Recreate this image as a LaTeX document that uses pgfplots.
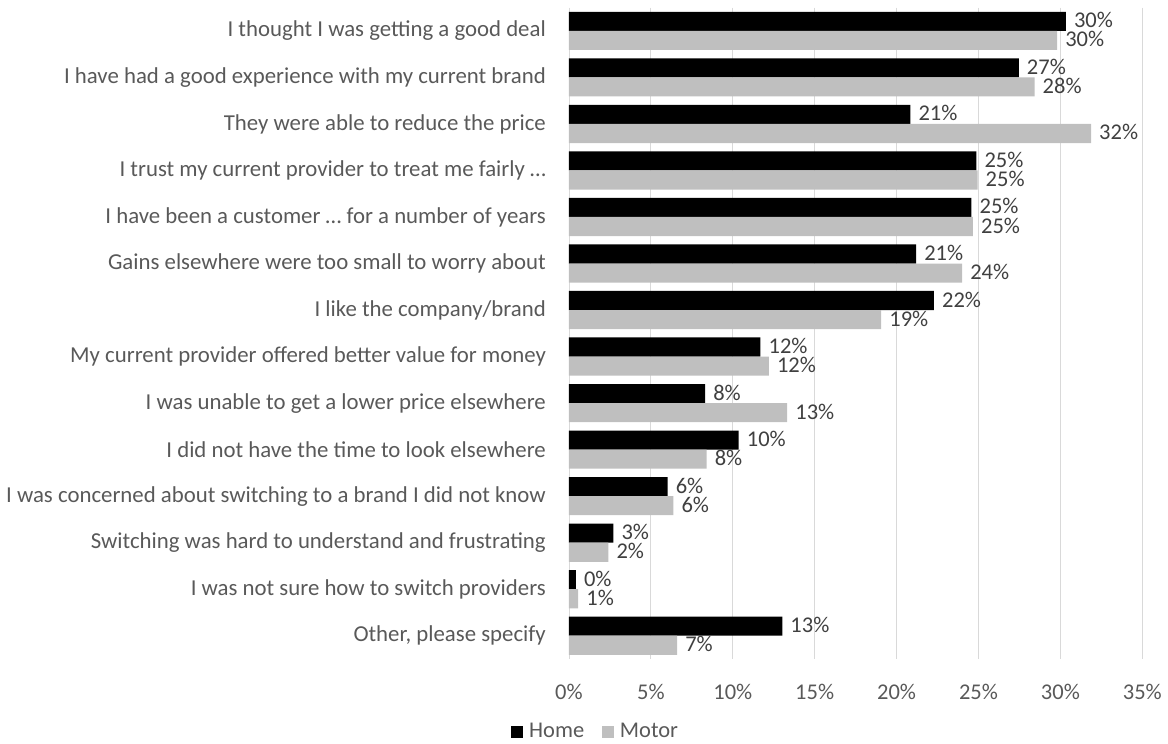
\documentclass[border=0pt]{standalone}
\usepackage{fontspec}
\setmainfont{Carlito}
\usepackage{pgfplots}
\pgfplotsset{compat=1.18}
\definecolor{homec}{HTML}{000000}
\definecolor{motorc}{HTML}{BFBFBF}
\definecolor{textgray}{HTML}{595959}
\definecolor{labgray}{HTML}{404040}
\definecolor{gridgray}{HTML}{D9D9D9}
\begin{document}
\begin{tikzpicture}
\fontsize{22.5bp}{26bp}\selectfont
\begin{axis}[
  name=ax,
  scale only axis,
  width=573.3bp, height=651.4bp,
  xbar,
  y dir=reverse,
  xmin=0, xmax=35,
  ymin=-0.5, ymax=13.5,
  bar width=0.41,
  xtick={0,5,...,35},
  ytick={0,...,13},
  yticklabels={
    I thought I was getting a good deal,
    I have had a good experience with my current brand,
    They were able to reduce the price,
    I trust my current provider to treat me fairly …,
    I have been a customer … for a number of years,
    Gains elsewhere were too small to worry about,
    I like the company/brand,
    My current provider offered better value for money,
    I was unable to get a lower price elsewhere,
    I did not have the time to look elsewhere,
    I was concerned about switching to a brand I did not know,
    Switching was hard to understand and frustrating,
    I was not sure how to switch providers,
    {Other, please specify}},
  xticklabel={\pgfmathprintnumber{\tick}\%},
  /pgf/number format/assume math mode=true,
  tick label style={text=textgray},
  xticklabel style={font=\fontsize{22.5bp}{26bp}\selectfont, yshift=-17bp},
  yticklabel style={font=\fontsize{22.8bp}{26bp}\selectfont, inner sep=0pt, xshift=-23bp},
  major tick length=0pt,
  axis line style={draw=none},
  xmajorgrids,
  major grid style={draw=gridgray, line width=0.8bp},
  nodes near coords={\pgfmathprintnumber[fixed,precision=0]{\pgfplotspointmeta}\%},
  nodes near coords style={font=\fontsize{22.5bp}{26bp}\selectfont, text=labgray, anchor=west, inner sep=0pt, text height=13bp, text depth=1bp, xshift=8bp, yshift=-0.5bp},
  point meta=explicit,
  legend columns=-1,
  legend style={draw=none, fill=none, at={(0.045,-0.1116)}, anchor=center,
    font=\fontsize{22.5bp}{26bp}\selectfont, text=textgray,
    /tikz/every odd column/.append style={column sep=6bp},
    /tikz/every even column/.append style={column sep=18bp},
    nodes={inner sep=0pt}},
  legend image code/.code={\fill[#1] (0bp,-5.85bp) rectangle (11.7bp,5.85bp);},
]
\addplot[fill=homec, draw=none, bar shift=-0.205] coordinates {
  (30.33,0) [30.33]
  (27.46,1) [27.46]
  (20.84,2) [20.84]
  (24.87,3) [24.87]
  (24.57,4) [24.57]
  (21.19,5) [21.19]
  (22.28,6) [22.28]
  (11.69,7) [11.69]
  (8.31,8) [8.31]
  (10.36,9) [10.36]
  (6.02,10) [6.02]
  (2.71,11) [2.71]
  (0.42,12) [0.42]
  (13.02,13) [13.02]
};
\addplot[fill=motorc, draw=none, bar shift=0.205] coordinates {
  (29.80,0) [29.80]
  (28.42,1) [28.42]
  (31.87,2) [31.87]
  (24.94,3) [24.94]
  (24.66,4) [24.66]
  (24.00,5) [24.00]
  (19.06,6) [19.06]
  (12.20,7) [12.20]
  (13.32,8) [13.32]
  (8.40,9) [8.40]
  (6.37,10) [6.37]
  (2.40,11) [2.40]
  (0.56,12) [0.56]
  (6.60,13) [6.60]
};
\legend{Home, Motor}
\end{axis}
\pgfresetboundingbox
\path ([xshift=-569bp,yshift=-85bp]ax.south west) rectangle ([xshift=25.7bp,yshift=7.6bp]ax.north east);
\end{tikzpicture}
\end{document}
